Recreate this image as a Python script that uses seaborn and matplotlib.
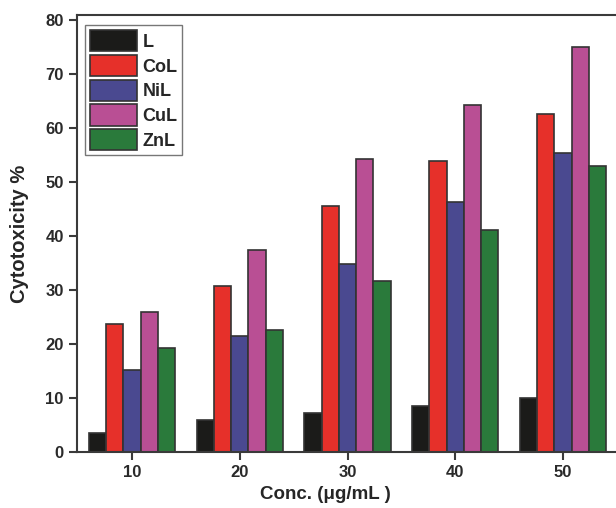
import matplotlib
matplotlib.use("Agg")
import matplotlib.pyplot as plt
import seaborn as sns
import pandas as pd

concs = ["10", "20", "30", "40", "50"]
series = ["L", "CoL", "NiL", "CuL", "ZnL"]
L = [3.6, 6.0, 7.3, 8.6, 10.1]
CoL = [23.7, 30.7, 45.5, 53.9, 62.6]
NiL = [15.2, 21.5, 34.8, 46.4, 55.4]
CuL = [25.9, 37.5, 54.2, 64.3, 75.0]
ZnL = [19.2, 22.6, 31.7, 41.1, 53.0]
colors = ["#1b1b19", "#e6302a", "#4a4990", "#b94f94", "#2a7a3b"]

rows = []
for name, vals in zip(series, [L, CoL, NiL, CuL, ZnL]):
    for c, v in zip(concs, vals):
        rows.append({"Conc": c, "Series": name, "Value": v})
df = pd.DataFrame(rows)

sns.set_style("ticks")
plt.rcParams['font.family'] = ['Liberation Sans', 'DejaVu Sans']

fig = plt.figure(figsize=(6.16, 5.08), dpi=100)
ax = fig.add_axes([0.125, 0.110, 0.880, 0.860])
sns.barplot(data=df, x="Conc", y="Value", hue="Series", order=concs,
            hue_order=series, palette=colors, width=0.8, saturation=1,
            edgecolor="#333333", linewidth=1.2, ax=ax)

ax.set_xlim(-0.51, 4.52)
ax.set_ylim(0, 80.9)
ax.set_yticks(range(0, 81, 10))
for s in ax.spines.values():
    s.set_linewidth(1.5)
    s.set_color("#3a3a3a")
ax.tick_params(axis="both", direction="out", length=6, width=1.5, color="#3a3a3a",
               labelsize=12, pad=3.5)
for t in ax.get_xticklabels() + ax.get_yticklabels():
    t.set_fontweight("bold")
    t.set_color("#2a2a2a")
ax.set_xlabel("Conc. (\u03bcg/mL )", fontsize=13.5, fontweight="bold", va="center")
ax.xaxis.set_label_coords(0.459, -0.098)
ax.set_ylabel("Cytotoxicity %", fontsize=14.5, fontweight="bold", va="center")
ax.yaxis.set_label_coords(-0.106, 0.5)

leg = ax.legend(loc="upper left", bbox_to_anchor=(0.0148, 0.977), frameon=True, fancybox=False,
                handlelength=2.6, handleheight=1.42, handletextpad=0.3, labelspacing=0.2,
                borderpad=0.28, borderaxespad=0.0,
                prop={"weight": "bold", "size": 13})
leg.get_frame().set_edgecolor("#555555")
leg.get_frame().set_linewidth(1.0)

fig.savefig("out.png", dpi=100)
